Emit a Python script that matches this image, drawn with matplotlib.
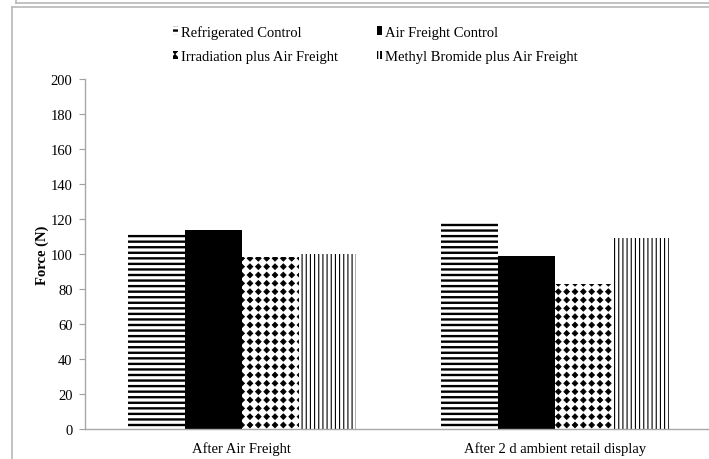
import numpy as np
import matplotlib
matplotlib.use("Agg")
import matplotlib.pyplot as plt
import matplotlib.hatch as mhatch
from matplotlib.path import Path
from matplotlib.lines import Line2D

# force at each stage, one list per treatment
stages = ["After Air Freight", "After 2 d ambient retail display"]
treatments = ["Refrigerated Control", "Air Freight Control",
              "Irradiation plus Air Freight", "Methyl Bromide plus Air Freight"]
refrigerated = [112, 117.5]
air_freight = [114, 99]
irradiation = [98.5, 83]
methyl_bromide = [100, 109]
yticks = list(range(0, 201, 20))


# '.' hatch drawn as a square grid of filled diamonds
class FilledDiamonds(mhatch.HatchPatternBase):
    size = 0.34

    def __init__(self, hatch, density):
        self.num_rows = hatch.count('.') * density
        p = Path.unit_regular_polygon(4)
        self.shape_vertices = p.vertices
        self.shape_codes = p.codes
        if self.num_rows:
            self.num_vertices = (self.num_rows + 1) ** 2 * len(p.vertices)
        else:
            self.num_vertices = 0

    def set_vertices_and_codes(self, vertices, codes):
        offset = 1.0 / self.num_rows
        sv = self.shape_vertices * offset * self.size
        grid = np.linspace(0, 1, self.num_rows + 1)
        parts = [sv + [cx, cy] for cy in grid for cx in grid]
        vertices[:] = np.concatenate(parts)
        codes[:] = np.tile(self.shape_codes, len(parts))


mhatch._hatch_types = [FilledDiamonds if h is mhatch.SmallFilledCircles else h
                       for h in mhatch._hatch_types]

plt.rcParams['font.family'] = ['Liberation Serif', 'DejaVu Serif']
plt.rcParams['hatch.linewidth'] = 1.7

fig = plt.figure(figsize=(7.09, 4.60), dpi=100)
ax = fig.add_axes([0.12, 0.0652, 0.883, 0.7609])

series = [refrigerated, air_freight, irradiation, methyl_bromide]
styles = [dict(facecolor='white', hatch='---'),
          dict(facecolor='black', hatch=None),
          dict(facecolor='white', hatch='..'),
          dict(facecolor='white', hatch='||||')]
hatch_lw = [1.7, 1.0, 0.6, 0.8]
x = np.arange(len(stages))
w = 0.182
for i, (vals, st, name) in enumerate(zip(series, styles, treatments)):
    bars = ax.bar(x + (i - 1.5) * w, vals, w, edgecolor='black', linewidth=0,
                  label=name, **st)
    for b in bars:
        if hasattr(b, 'set_hatch_linewidth'):
            b.set_hatch_linewidth(hatch_lw[i])

ax.set_xlim(-0.5, 1.5)
ax.set_ylim(0, 200)
ax.set_yticks(yticks)
ax.set_xticks(x)
ax.set_xticklabels(stages, fontsize=10.5)
ax.tick_params(axis='x', length=0, pad=9)
ax.tick_params(axis='y', length=4, color='#a0a0a0', labelsize=10.5,
               direction='out', pad=5)
ax.set_ylabel("Force (N)", fontsize=10.5, fontweight='bold', labelpad=1)
for s in ['top', 'right']:
    ax.spines[s].set_visible(False)
for s in ['left', 'bottom']:
    ax.spines[s].set_color('#a8a8a8')
    ax.spines[s].set_linewidth(1.0)

# two columns, filled column-first
h, l = ax.get_legend_handles_labels()
order = [0, 2, 1, 3]
leg = fig.legend([h[k] for k in order], [l[k] for k in order], ncol=2,
                 loc='upper left', bbox_to_anchor=(0.225, 0.972),
                 frameon=False, fontsize=10.5, handlelength=0.35,
                 handleheight=0.5, handletextpad=0.2, columnspacing=2.7,
                 labelspacing=0.8)

# frame lines around the figure
grey = '#b8b8b8'
fig.add_artist(Line2D([0.022, 1], [0.992, 0.992], color=grey, lw=1.2,
                      transform=fig.transFigure))
fig.add_artist(Line2D([0.022, 0.022], [0.992, 1], color=grey, lw=1.2,
                      transform=fig.transFigure))
fig.add_artist(Line2D([0.017, 1], [0.982, 0.982], color=grey, lw=1.2,
                      transform=fig.transFigure))
fig.add_artist(Line2D([0.017, 0.017], [0, 0.982], color=grey, lw=1.2,
                      transform=fig.transFigure))

fig.savefig("out.png", dpi=100)
